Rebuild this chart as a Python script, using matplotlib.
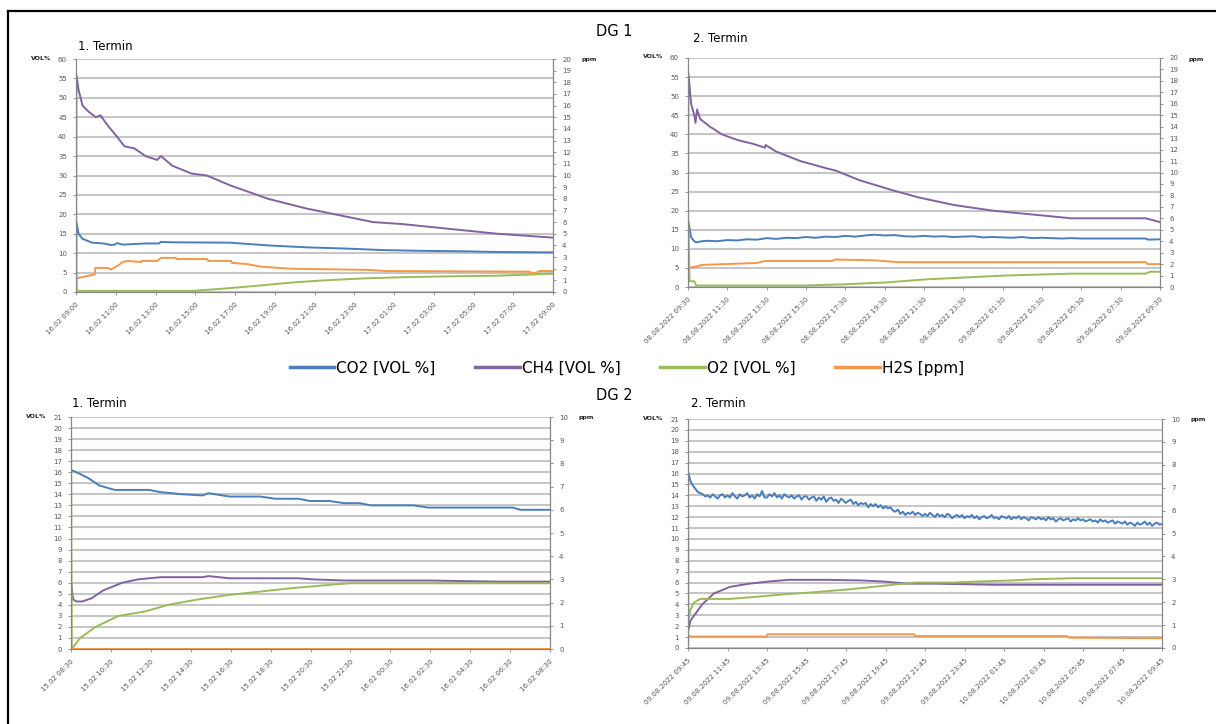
import numpy as np
import matplotlib
matplotlib.use('Agg')
import matplotlib.pyplot as plt
from matplotlib.lines import Line2D

plt.rcParams['font.family'] = ['DejaVu Sans']

# Excel-like series colours
C_CO2 = '#4a7ebb'
C_CH4 = '#8064a2'
C_O2 = '#9bbb59'
C_H2S = '#f79646'
GRID = '#c6c6c6'
AXIS = '#868686'
TICK = '#595959'

SERIES_NAMES = ['CO2 [VOL %]', 'CH4 [VOL %]', 'O2 [VOL %]', 'H2S [ppm]']

# ---------------- DG 1, 1. Termin (hours after 16.02 09:00) ----------------
tl_xlabels = ['16.02 09:00', '16.02 11:00', '16.02 13:00', '16.02 15:00', '16.02 17:00',
              '16.02 19:00', '16.02 21:00', '16.02 23:00', '17.02 01:00', '17.02 03:00',
              '17.02 05:00', '17.02 07:00', '17.02 09:00']
tl_t_ch4 = [0, 0.02, 0.13, 0.33, 0.62, 1.0, 1.23, 1.58, 2.06, 2.44, 2.93, 3.5, 4.08, 4.27,
            4.85, 5.81, 6.58, 7.74, 9.66, 11.59, 13.51, 14.95, 16.4, 17.36, 19.28, 21.2, 24]
tl_ch4 = [0, 56, 52, 48, 46.5, 45, 45.5, 43, 40, 37.5, 37, 35, 34, 35,
          32.5, 30.5, 30, 27.5, 24, 21.5, 19.5, 18, 17.5, 17, 16, 15, 14]
tl_t_co2 = [0, 0.02, 0.13, 0.33, 0.81, 1.39, 1.77, 1.96, 2.06, 2.35, 3.5, 4.18, 4.27, 4.85,
            7.74, 9.66, 11.59, 13.51, 15.43, 17.36, 19.28, 21.2, 24]
tl_co2 = [0, 18, 15, 13.7, 12.7, 12.5, 12.1, 12.2, 12.6, 12.2, 12.5, 12.5, 12.9, 12.8,
          12.7, 12, 11.5, 11.2, 10.8, 10.6, 10.5, 10.3, 10.2]
tl_t_o2 = [0, 0.03, 0.1, 5.9, 7.5, 9.3, 11.0, 12.5, 14.47, 16.4, 18.3, 21.2, 24]
tl_o2 = [20, 0.5, 0.3, 0.3, 0.9, 1.7, 2.5, 3.0, 3.5, 3.8, 4.0, 4.2, 4.7]
tl_t_h2s = [0, 0.03, 0.5, 0.95, 0.97, 1.59, 1.76, 2.17, 2.33, 2.6, 3.27, 3.3, 4.1, 4.27,
            5.03, 5.05, 6.6, 6.65, 7.8, 7.85, 8.6, 9.3, 10.81, 14.66, 15.62, 22.75, 23.04,
            23.33, 24]
tl_h2s = [0, 1.17, 1.35, 1.5, 2.07, 2.07, 1.93, 2.33, 2.57, 2.67, 2.57, 2.67, 2.67, 2.93,
          2.93, 2.83, 2.83, 2.67, 2.67, 2.5, 2.4, 2.17, 2.0, 1.9, 1.8, 1.75, 1.6,
          1.8, 1.8]

# ---------------- DG 1, 2. Termin (hours after 08.08.2022 09:30) ----------------
tr_xlabels = ['08.08.2022 09:30', '08.08.2022 11:30', '08.08.2022 13:30', '08.08.2022 15:30',
              '08.08.2022 17:30', '08.08.2022 19:30', '08.08.2022 21:30', '08.08.2022 23:30',
              '09.08.2022 01:30', '09.08.2022 03:30', '09.08.2022 05:30', '09.08.2022 07:30',
              '09.08.2022 09:30']
tr_t_ch4 = [0, 0.02, 0.16, 0.32, 0.38, 0.46, 0.62, 1.12, 1.72, 2.52, 3.32, 3.91, 3.95, 4.47,
            5.71, 7.11, 7.51, 8.71, 10.3, 11.7, 13.5, 15.5, 17.5, 19.5, 23.27, 24]
tr_ch4 = [20, 56, 48, 45, 43, 46.5, 44, 42, 40, 38.5, 37.5, 36.5, 37.2, 35.5,
          33, 31, 30.5, 28, 25.5, 23.5, 21.5, 20, 19, 18, 18, 17]
tr_t_co2 = [0, 0.02, 0.16, 0.32, 0.42, 0.72, 1.0, 1.5, 2.0, 2.5, 3.0, 3.5, 4.0, 4.5, 5.0,
            5.5, 6.0, 6.5, 7.0, 7.5, 8.0, 8.5, 9.0, 9.5, 10.0, 10.5, 11.0, 11.5, 12.0, 12.5,
            13.0, 13.5, 14.0, 14.5, 15.0, 15.5, 16.0, 16.5, 17.0, 17.5, 18.0, 18.5, 19.0,
            19.5, 20.0, 21.0, 22.0, 23.27, 23.4, 24]
tr_co2 = [0, 17, 13, 12, 11.7, 12, 12.1, 12.0, 12.3, 12.2, 12.5, 12.4, 12.8, 12.6, 12.9,
          12.8, 13.1, 12.9, 13.2, 13.1, 13.4, 13.2, 13.5, 13.7, 13.5, 13.6, 13.3, 13.2, 13.4, 13.2,
          13.3, 13.1, 13.2, 13.3, 13.0, 13.1, 13.0, 12.9, 13.1, 12.8, 12.9, 12.8, 12.7,
          12.8, 12.7, 12.7, 12.7, 12.7, 12.4, 12.5]
tr_t_o2 = [0, 0.08, 0.32, 0.42, 5.91, 7.91, 10.1, 12.1, 14.1, 16.1, 18.1, 19.5, 23.27, 23.5, 24]
tr_o2 = [20.5, 1.5, 1.5, 0.4, 0.4, 0.7, 1.2, 2.0, 2.5, 3.0, 3.3, 3.5, 3.5, 4.0, 4.0]
tr_t_h2s = [0, 0.04, 0.52, 0.72, 1.92, 3.51, 3.91, 7.31, 7.51, 9.5, 10.7, 23.27, 23.37, 24]
tr_h2s = [0, 1.67, 1.83, 1.93, 2.0, 2.1, 2.27, 2.27, 2.4, 2.33, 2.17, 2.17, 2.0, 2.0]

# ---------------- DG 2, 1. Termin (hours after 15.02 08:30) ----------------
bl_xlabels = ['15.02 08:30', '15.02 10:30', '15.02 12:30', '15.02 14:30', '15.02 16:30',
              '15.02 18:30', '15.02 20:30', '15.02 22:30', '16.02 00:30', '16.02 02:30',
              '16.02 04:30', '16.02 06:30', '16.02 08:30']
bl_t_co2 = [0, 0.27, 0.84, 1.42, 2.19, 3.91, 4.49, 5.64, 6.6, 6.89, 7.94, 9.48, 10.24, 11.39,
            11.97, 12.93, 13.7, 14.46, 15.04, 17.15, 17.92, 22.14, 22.52, 24]
bl_co2 = [16.2, 16.0, 15.5, 14.8, 14.4, 14.4, 14.2, 14.0, 13.9, 14.1, 13.8, 13.8, 13.6, 13.6,
          13.4, 13.4, 13.2, 13.2, 13.0, 13.0, 12.8, 12.8, 12.6, 12.6]
bl_t_ch4 = [0, 0.1, 0.27, 0.56, 1.04, 1.61, 2.57, 3.34, 4.49, 6.6, 6.89, 7.94, 11.39, 12.16,
            13.7, 17.92, 21.37, 24]
bl_ch4 = [6.2, 4.5, 4.3, 4.3, 4.6, 5.3, 6.0, 6.3, 6.5, 6.5, 6.6, 6.4, 6.4, 6.3,
          6.2, 6.2, 6.1, 6.1]
bl_t_o2 = [0, 0.04, 0.46, 1.23, 2.38, 3.72, 4.87, 6.41, 7.94, 9.48, 11.01, 12.93, 13.99, 24]
bl_o2 = [21, 0, 1.0, 2.0, 3.0, 3.4, 4.0, 4.5, 4.9, 5.2, 5.5, 5.8, 5.95, 5.95]
bl_t_h2s = [0, 24]
bl_h2s = [0, 0]

# ---------------- DG 2, 2. Termin (hours after 09.08.2022 09:45) ----------------
br_xlabels = ['09.08.2022 09:45', '09.08.2022 11:45', '09.08.2022 13:45', '09.08.2022 15:45',
              '09.08.2022 17:45', '09.08.2022 19:45', '09.08.2022 21:45', '09.08.2022 23:45',
              '10.08.2022 01:45', '10.08.2022 03:45', '10.08.2022 05:45', '10.08.2022 07:45',
              '10.08.2022 09:45']
# noisy CO2 read every 7.5 minutes, one row per two hours
br_co2 = [16.2, 15.3, 14.9, 14.6, 14.3, 14.2, 14.1, 13.9, 14.0, 13.8, 14.1, 13.9, 13.7, 14.0, 14.1, 13.8,
          14.0, 13.8, 14.2, 13.9, 13.7, 14.1, 13.9, 14.0, 14.2, 13.8, 14.0, 13.7, 14.1, 13.9, 14.4, 13.8,
          13.8, 14.1, 13.9, 14.2, 13.8, 14.0, 13.7, 14.1, 13.9, 13.8, 14.0, 13.7, 13.9, 14.0, 13.6, 13.9,
          13.9, 13.6, 13.8, 13.9, 13.5, 13.8, 13.6, 13.9, 13.4, 13.7, 13.8, 13.5, 13.6, 13.3, 13.7, 13.5,
          13.3, 13.5, 13.6, 13.2, 13.4, 13.1, 13.3, 13.2, 13.3, 12.9, 13.2, 13.0, 13.2, 12.9, 13.1, 12.8,
          13.0, 12.8, 12.9, 12.6, 12.5, 12.7, 12.3, 12.5, 12.2, 12.4, 12.3, 12.5, 12.2, 12.4, 12.3, 12.1,
          12.3, 12.1, 12.4, 12.2, 12.0, 12.3, 12.1, 12.2, 12.0, 12.3, 12.2, 11.9, 12.1, 12.2, 12.0, 12.2,
          11.9, 12.1, 12.0, 12.2, 11.9, 12.1, 11.8, 12.0, 12.1, 11.9, 12.0, 12.2, 11.9, 12.0, 11.8, 12.1,
          12.0, 11.9, 12.1, 11.8, 12.0, 11.9, 12.1, 11.8, 12.0, 11.9, 11.7, 12.0, 11.9, 11.8, 12.0, 11.8,
          11.9, 11.7, 12.0, 11.8, 11.9, 11.6, 11.8, 11.9, 11.7, 11.8, 11.9, 11.6, 11.8, 11.7, 11.9, 11.7,
          11.8, 11.6, 11.7, 11.8, 11.6, 11.7, 11.5, 11.8, 11.6, 11.7, 11.5, 11.6, 11.7, 11.4, 11.6, 11.5,
          11.4, 11.6, 11.3, 11.5, 11.4, 11.2, 11.5, 11.3, 11.4, 11.6, 11.3, 11.5, 11.2, 11.4, 11.5, 11.3,
          11.4]
br_t_co2 = np.linspace(0, 24, len(br_co2))
br_t_ch4 = [0, 0.12, 0.32, 0.72, 1.31, 2.11, 3.1, 4.1, 5.09, 7.08, 8.68, 9.87, 11.07, 12.46,
            15.44, 24]
br_ch4 = [1.5, 2.5, 3.0, 4.0, 5.0, 5.6, 5.9, 6.1, 6.25, 6.25, 6.2, 6.1, 5.9, 5.9, 5.8, 5.8]
br_t_o2 = [0, 0.02, 0.12, 0.32, 0.62, 2.11, 3.5, 4.7, 6.29, 8.28, 9.87, 11.46, 13.45, 14.65,
           16.44, 17.43, 19.42, 24]
br_o2 = [20, 2.5, 3.5, 4.2, 4.5, 4.5, 4.7, 4.9, 5.1, 5.4, 5.7, 6.0, 6.0, 6.1, 6.2, 6.3, 6.4, 6.4]
br_t_h2s = [0, 0.02, 0.1, 4.0, 4.02, 11.46, 11.5, 19.2, 19.3, 24]
br_h2s = [0, 0.57, 0.5, 0.5, 0.6, 0.6, 0.52, 0.52, 0.45, 0.43]


W, H = 1216, 724


def draw_panel(box, xlabels, co2, ch4, o2, h2s, ymax, ystep, pmax, title, tpos):
    # box = (left, top, right, bottom) in pixels of the picture
    x0, y0, x1, y1 = box
    ax = fig.add_axes([x0 / W, 1 - y1 / H, (x1 - x0) / W, (y1 - y0) / H])
    ax2 = ax.twinx()
    ax.plot(co2[0], co2[1], color=C_CO2, lw=1.4, zorder=3)
    ax.plot(ch4[0], ch4[1], color=C_CH4, lw=1.4, zorder=3)
    ax.plot(o2[0], o2[1], color=C_O2, lw=1.4, zorder=3)
    ax2.plot(h2s[0], h2s[1], color=C_H2S, lw=1.4)

    ax.set_xlim(0, 24)
    ax.set_ylim(0, ymax)
    ax2.set_ylim(0, pmax)
    ax.set_yticks(np.arange(0, ymax + 0.1, ystep))
    ax2.set_yticks(np.arange(0, pmax + 0.1, 1))
    ax.set_xticks(np.arange(0, 24.1, 2))
    ax.set_xticklabels(xlabels, rotation=45, ha='right', rotation_mode='anchor')
    ax.yaxis.grid(True, color=GRID, lw=1.5)
    ax.set_axisbelow(True)

    for a in (ax, ax2):
        a.spines['top'].set_visible(False)
        for s in ('left', 'right', 'bottom'):
            a.spines[s].set_color(AXIS)
            a.spines[s].set_linewidth(0.8)
        a.tick_params(colors=AXIS, labelcolor=TICK, labelsize=5, length=2.5, width=0.6, pad=4)

    fig.text(tpos[0] / W, 1 - tpos[1] / H, title, fontsize=8.5, va='center', ha='left')
    # axis unit captions
    fig.text((x0 - 35) / W, 1 - (y0 - 1) / H, 'VOL%', fontsize=4.5, fontweight='bold',
             ha='center', va='center', color='#222222')
    fig.text((x1 + 36) / W, 1 - (y0 + 1) / H, 'ppm', fontsize=4.5, fontweight='bold',
             ha='center', va='center', color='#222222')
    return ax


fig = plt.figure(figsize=(W / 100, H / 100), dpi=100)

draw_panel((76, 59, 553, 292), tl_xlabels,
           (tl_t_co2, tl_co2), (tl_t_ch4, tl_ch4), (tl_t_o2, tl_o2), (tl_t_h2s, tl_h2s),
           60, 5, 20, '1. Termin', (78, 46))
draw_panel((688, 58, 1160, 287), tr_xlabels,
           (tr_t_co2, tr_co2), (tr_t_ch4, tr_ch4), (tr_t_o2, tr_o2), (tr_t_h2s, tr_h2s),
           60, 5, 20, '2. Termin', (693, 38))
draw_panel((71, 417, 550, 649), bl_xlabels,
           (bl_t_co2, bl_co2), (bl_t_ch4, bl_ch4), (bl_t_o2, bl_o2), (bl_t_h2s, bl_h2s),
           21, 1, 10, '1. Termin', (72, 403))
draw_panel((688, 419, 1162, 648), br_xlabels,
           (br_t_co2, br_co2), (br_t_ch4, br_ch4), (br_t_o2, br_o2), (br_t_h2s, br_h2s),
           21, 1, 10, '2. Termin', (691, 403))

fig.text(614 / W, 1 - 32 / H, 'DG 1', fontsize=10.5, ha='center', va='center')
fig.text(614 / W, 1 - 395 / H, 'DG 2', fontsize=10.5, ha='center', va='center')

handles = [Line2D([], [], color=c, lw=2.5) for c in (C_CO2, C_CH4, C_O2, C_H2S)]
fig.legend(handles, SERIES_NAMES, loc='center', bbox_to_anchor=(627 / W, 1 - 368 / H),
           ncol=4, frameon=False, fontsize=11, handlelength=2.9, columnspacing=2.6,
           handletextpad=0.15)

# outer frame (top and left edges visible in the picture)
fig.add_artist(Line2D([7.5 / W, 1], [1 - 11 / H, 1 - 11 / H], color='black', lw=1.6))
fig.add_artist(Line2D([7.5 / W, 7.5 / W], [0, 1 - 11 / H], color='black', lw=1.6))

plt.savefig('out.png', dpi=100)
